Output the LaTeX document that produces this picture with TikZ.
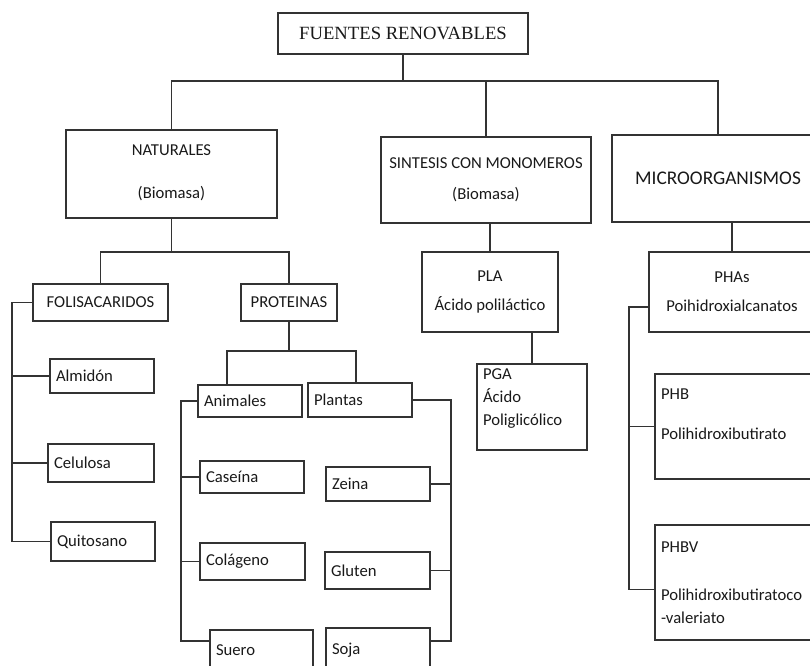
\documentclass[tikz,border=0pt]{standalone}
\usepackage{fontspec}
\setmainfont{Carlito}
\newfontfamily\titlefont{Liberation Serif}

\begin{document}
\begin{tikzpicture}[x=0.75pt,y=-0.75pt,
  box/.style={draw=black!80,line width=1.3pt,rectangle,align=center,text=black!90,
    font=\fontsize{12.5}{15}\selectfont},
  leaf/.style={draw=black!80,line width=1.3pt,rectangle,align=left,text=black!90,
    inner xsep=4.5pt,font=\fontsize{12.5}{15}\selectfont},
  link/.style={draw=black!80,line width=1.3pt}]
\useasboundingbox (0,0) rectangle (810,665);
\clip (0,0) rectangle (810,665);

\node (fuentes) at (403,33.5) [box,minimum width=187.5pt,minimum height=30.75pt,font=\titlefont\fontsize{14}{16}\selectfont] {FUENTES RENOVABLES};

\node (natur) at (171.5,174) [box,minimum width=158.25pt,minimum height=66pt] {\mbox{}\\[-9pt]NATURALES\\[17pt](Biomasa)};
\node (sintesis) at (486,180) [box,minimum width=157.5pt,minimum height=64.5pt] {SINTESIS CON MONOMEROS\\[8pt](Biomasa)};
\node (micro) at (718,178.5) [box,minimum width=159pt,minimum height=65.25pt,font=\fontsize{14.5}{17}\selectfont] {MICROORGANISMOS};

\node (folis) at (100.5,302.5) [box,minimum width=101.25pt,minimum height=27.75pt] {FOLISACARIDOS};
\node (prot) at (289,302.5) [box,minimum width=72pt,minimum height=27.75pt] {PROTEINAS};

\node (almidon) at (102,376) [leaf,text width=69pt,minimum height=25.5pt] {Almidón};
\node (celulosa) at (101,463) [leaf,text width=70.5pt,minimum height=28.5pt] {Celulosa};
\node (quitosano) at (103,541.5) [leaf,text width=69pt,minimum height=29.25pt] {Quitosano};

\node (animales) at (250,401) [leaf,text width=69pt,minimum height=24pt] {Animales};
\node (plantas) at (360,400) [leaf,text width=69pt,minimum height=25.5pt] {Plantas};
\node (caseina) at (252,477) [leaf,text width=69pt,minimum height=24pt] {Caseína};
\node (colageno) at (252.5,561.5) [leaf,text width=69.75pt,minimum height=27.75pt] {Colágeno};
\node (suero) at (261.5,650) [leaf,text width=68.25pt,minimum height=30pt] {Suero};
\node (zeina) at (378,484) [leaf,text width=69pt,minimum height=25.5pt] {Zeina};
\node (gluten) at (377.5,570.5) [leaf,text width=69.75pt,minimum height=27.75pt] {Gluten};
\node (soja) at (378,650) [leaf,text width=69pt,minimum height=33pt] {Soja};

\node (pla) at (490,292) [box,minimum width=102pt,minimum height=60pt] {PLA\\[7pt]Ácido poliláctico};
\node (pga) at (532,407) [leaf,text width=73.5pt,minimum height=64.5pt] {PGA\\[2.5pt]Ácido\\[2.5pt]Poliglicólico\\[0pt]\mbox{}};

\node (phas) at (732,292) [box,minimum width=124.5pt,minimum height=60pt] {PHAs\\[7pt]Poihidroxialcanatos};
\node (phb) at (735,426.5) [leaf,text width=111pt,minimum height=78.75pt] {PHB\\[15pt]Polihidroxibutirato\\[3pt]\mbox{}};
\node (phbv) at (735,582.5) [leaf,text width=111pt,minimum height=86.25pt] {PHBV\\[21pt]Polihidroxibutiratoco\\[2pt]-valeriato};

% first level
\coordinate (topbus) at (403,81);
\draw[link] (fuentes) -- (topbus);
\draw[link] (natur.north) |- (micro.north |- topbus) -- (micro.north);
\draw[link] (sintesis.north) -- (sintesis.north |- topbus);

% naturales
\coordinate (natbus) at (173,252);
\draw[link] (natur.south) -- (natur.south |- natbus);
\draw[link] (folis.north) |- (prot.north |- natbus) -- (prot.north);

\coordinate (folbar) at (12,0);
\draw[link] (folis.west) -- (folis.west -| folbar) |- (quitosano.west);
\draw[link] (almidon.west) -- (almidon.west -| folbar);
\draw[link] (celulosa.west) -- (celulosa.west -| folbar);

% proteinas
\coordinate (protL) at (227,351);
\coordinate (protR) at (356,351);
\draw[link] (prot.south) -- (prot.south |- protL);
\draw[link] (animales.north -| protL) |- (protR) -- (protR |- plantas.north);

\coordinate (anibar) at (181,0);
\draw[link] (animales.west) -- (animales.west -| anibar) |- (suero.170);
\draw[link] (caseina.west) -- (caseina.west -| anibar);
\draw[link] (colageno.west) -- (colageno.west -| anibar);

\coordinate (planbar) at (451,0);
\draw[link] (plantas.east) -- (plantas.east -| planbar) |- (soja.10);
\draw[link] (zeina.east) -- (zeina.east -| planbar);
\draw[link] (gluten.east) -- (gluten.east -| planbar);

% sintesis
\draw[link] (pla.north) -- (pla.north |- sintesis.south);
\draw[link] (pga.north) -- (pga.north |- pla.south);

% microorganismos
\draw[link] (phas.north) -- (phas.north |- micro.south);
\coordinate (phabar) at (629,0);
\draw[link] (phas.190) -- (phas.190 -| phabar) |- (phbv.185);
\draw[link] (phb.west) -- (phb.west -| phabar);
\end{tikzpicture}
\end{document}
